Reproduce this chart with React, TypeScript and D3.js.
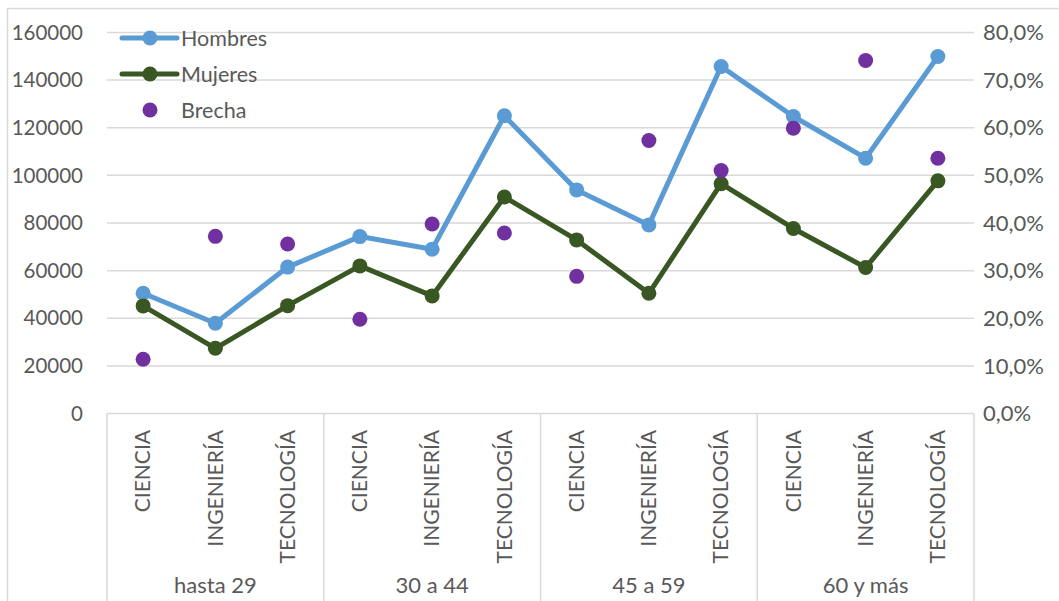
import React from "react";
import * as d3 from "d3";

const ageGroups = ["hasta 29", "30 a 44", "45 a 59", "60 y más"];
const fields = ["CIENCIA", "INGENIERÍA", "TECNOLOGÍA"];
const hombres = [50500, 37900, 61500, 74300, 69000, 125000, 93900, 79200, 145700, 124700, 107200, 149900];
const mujeres = [45200, 27400, 45300, 62000, 49400, 90900, 72900, 50500, 96500, 77700, 61300, 97700];
const brecha = [0.114, 0.372, 0.356, 0.198, 0.398, 0.379, 0.288, 0.573, 0.51, 0.599, 0.741, 0.536];
const leftTicks = [0, 20000, 40000, 60000, 80000, 100000, 120000, 140000, 160000];
const rightTicks = [0, 0.1, 0.2, 0.3, 0.4, 0.5, 0.6, 0.7, 0.8];

const W = 1059;
const H = 601;
const plot = { left: 107, right: 974, top: 32.4, bottom: 413.6 };
const FONT = "Lato, 'Open Sans', sans-serif";
const TEXT = "#595959";
const GRID = "#d9d9d9";
const BLUE = "#5b9bd5";
const GREEN = "#385723";
const PURPLE = "#7030a0";

const cats = ageGroups.flatMap((g) => fields.map((f) => `${g}|${f}`));

export default function App() {
  const x = d3.scaleBand().domain(cats).range([plot.left, plot.right]);
  const yL = d3.scaleLinear().domain([0, 160000]).range([plot.bottom, plot.top]);
  const yR = d3.scaleLinear().domain([0, 0.8]).range([plot.bottom, plot.top]);
  const cx = (i: number) => (x(cats[i]) as number) + x.bandwidth() / 2;
  const line = d3
    .line<number>()
    .x((_, i) => cx(i))
    .y((d) => yL(d));
  const pct = (v: number) => d3.format(".1f")(v * 100).replace(".", ",") + "%";
  const groupW = x.bandwidth() * fields.length;

  return (
    <svg
      width={W}
      height={H}
      style={{ position: "absolute", left: 0, top: 0, background: "#fff" }}
      fontFamily={FONT}
    >
      <rect x={7.5} y={8.5} width={W} height={H} fill="#fff" stroke={GRID} strokeWidth={1.5} />

      {leftTicks.map((t) => (
        <line key={t} x1={plot.left} x2={plot.right} y1={yL(t)} y2={yL(t)} stroke={GRID} strokeWidth={1.5} />
      ))}

      {ageGroups.map((g, gi) => (
        <line
          key={g}
          x1={plot.left + gi * groupW}
          x2={plot.left + gi * groupW}
          y1={plot.bottom}
          y2={H}
          stroke={GRID}
          strokeWidth={1.5}
        />
      ))}
      <line x1={plot.right} x2={plot.right} y1={plot.bottom} y2={H} stroke={GRID} strokeWidth={1.5} />

      {leftTicks.map((t) => (
        <text key={t} x={83} y={yL(t)} dy="0.35em" textAnchor="end" fontSize={20.5} fill={TEXT}>
          {t}
        </text>
      ))}
      {rightTicks.map((t) => (
        <text key={t} x={983} y={yR(t)} dy="0.35em" textAnchor="start" fontSize={22} fill={TEXT}>
          {pct(t)}
        </text>
      ))}

      {cats.map((c, i) => (
        <text
          key={c}
          transform={`translate(${cx(i)},430) rotate(-90)`}
          dy="0.35em"
          textAnchor="end"
          fontSize={21}
          fill={TEXT}
        >
          {c.split("|")[1]}
        </text>
      ))}
      {ageGroups.map((g, gi) => (
        <text
          key={g}
          x={plot.left + gi * groupW + groupW / 2}
          y={593}
          textAnchor="middle"
          fontSize={22}
          fill={TEXT}
        >
          {g}
        </text>
      ))}

      <path d={line(hombres) ?? ""} fill="none" stroke={BLUE} strokeWidth={5} strokeLinejoin="round" />
      {hombres.map((v, i) => (
        <circle key={i} cx={cx(i)} cy={yL(v)} r={7.5} fill={BLUE} />
      ))}
      <path d={line(mujeres) ?? ""} fill="none" stroke={GREEN} strokeWidth={5} strokeLinejoin="round" />
      {mujeres.map((v, i) => (
        <circle key={i} cx={cx(i)} cy={yL(v)} r={7.5} fill={GREEN} />
      ))}
      {brecha.map((v, i) => (
        <circle key={i} cx={cx(i)} cy={yR(v)} r={7.5} fill={PURPLE} />
      ))}

      <g>
        <line x1={122} x2={177} y1={38} y2={38} stroke={BLUE} strokeWidth={5} strokeLinecap="round" />
        <circle cx={150} cy={38} r={7.5} fill={BLUE} />
        <text x={181} y={38} dy="0.35em" fontSize={21.5} fill={TEXT}>Hombres</text>
        <line x1={122} x2={177} y1={74} y2={74} stroke={GREEN} strokeWidth={5} strokeLinecap="round" />
        <circle cx={150} cy={74} r={7.5} fill={GREEN} />
        <text x={181} y={74} dy="0.35em" fontSize={21.5} fill={TEXT}>Mujeres</text>
        <circle cx={150} cy={110} r={7.5} fill={PURPLE} />
        <text x={181} y={110} dy="0.35em" fontSize={21.5} fill={TEXT}>Brecha</text>
      </g>
    </svg>
  );
}
